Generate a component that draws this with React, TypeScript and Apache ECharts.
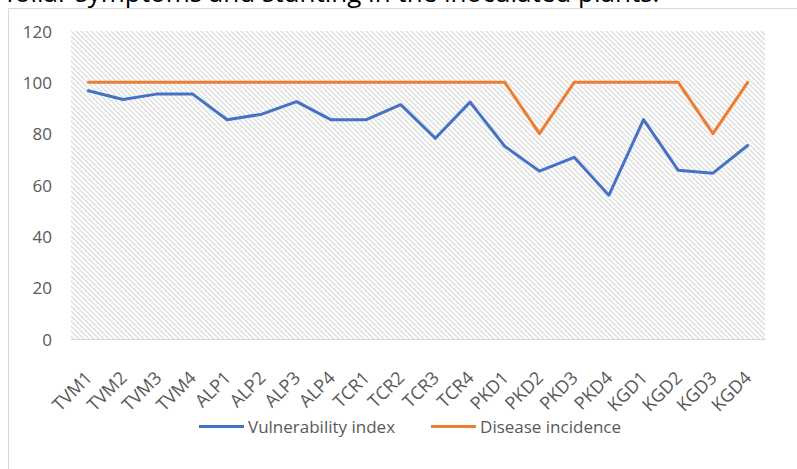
import React, { useEffect, useRef } from "react";
import * as echarts from "echarts";

const categories = [
  "TVM1", "TVM2", "TVM3", "TVM4",
  "ALP1", "ALP2", "ALP3", "ALP4",
  "TCR1", "TCR2", "TCR3", "TCR4",
  "PKD1", "PKD2", "PKD3", "PKD4",
  "KGD1", "KGD2", "KGD3", "KGD4",
];

const vulnerabilityIndex = [
  96.7, 93.3, 95.5, 95.5,
  85.4, 87.6, 92.5, 85.4,
  85.4, 91.3, 78.2, 92.3,
  75.1, 65.4, 70.8, 56.0,
  85.5, 65.7, 64.6, 75.4,
];

const diseaseIncidence = [
  100, 100, 100, 100,
  100, 100, 100, 100,
  100, 100, 100, 100,
  100, 80, 100, 100,
  100, 100, 80, 100,
];

const yTicks = { min: 0, max: 120, interval: 20 };

const titleText = "foliar symptoms and stunting in the inoculated plants.";

function makeHatch(): HTMLCanvasElement {
  const s = 5;
  const c = document.createElement("canvas");
  c.width = s;
  c.height = s;
  const ctx = c.getContext("2d")!;
  ctx.fillStyle = "#ffffff";
  ctx.fillRect(0, 0, s, s);
  ctx.strokeStyle = "#dedede";
  ctx.lineWidth = 1.4;
  for (const k of [-s, 0, s]) {
    ctx.beginPath();
    ctx.moveTo(k - 1, -1);
    ctx.lineTo(k + s + 1, s + 1);
    ctx.stroke();
  }
  return c;
}

export default function App() {
  const ref = useRef<HTMLDivElement>(null);

  useEffect(() => {
    if (!ref.current) return;
    const chart = echarts.init(ref.current, undefined, { renderer: "svg" });
    const hatch = makeHatch();
    const font = "'Open Sans', sans-serif";
    chart.setOption({
      animation: false,
      backgroundColor: "#ffffff",
      textStyle: { fontFamily: font },
      graphic: [
        {
          type: "text",
          left: 6,
          top: -21,
          z: -20,
          style: {
            text: titleText,
            font: "26px 'Open Sans', sans-serif",
            fill: "#000000",
          },
        },
        {
          type: "rect",
          z: -10,
          shape: { x: 8.5, y: 8.5, width: 800, height: 470 },
          style: { fill: "#ffffff", stroke: "#d9d9d9", lineWidth: 1 },
        },
      ],
      grid: {
        left: 71,
        top: 31,
        right: 32,
        bottom: 130,
        show: true,
        borderWidth: 0,
        backgroundColor: {
          image: hatch,
          repeat: "repeat",
          imageWidth: 5,
          imageHeight: 5,
        },
      },
      legend: {
        left: 194,
        top: 413,
        itemWidth: 45,
        itemHeight: 3,
        itemGap: 36,
        icon: "rect",
        textStyle: { color: "#595959", fontSize: 17, fontFamily: font, padding: [0, 0, 0, -1] },
        data: ["Vulnerability index", "Disease incidence"],
      },
      xAxis: {
        type: "category",
        data: categories,
        boundaryGap: true,
        axisLine: { show: true, lineStyle: { color: "#d9d9d9", width: 1 } },
        axisTick: { show: false },
        splitLine: { show: false },
        axisLabel: {
          rotate: 45,
          interval: 0,
          margin: 35,
          color: "#595959",
          fontSize: 18,
          fontFamily: font,
        },
      },
      yAxis: {
        type: "value",
        min: yTicks.min,
        max: yTicks.max,
        interval: yTicks.interval,
        axisLine: { show: false },
        axisTick: { show: false },
        splitLine: { show: false },
        axisLabel: {
          margin: 19,
          color: "#595959",
          fontSize: 17,
          fontFamily: font,
        },
      },
      series: [
        {
          name: "Vulnerability index",
          type: "line",
          data: vulnerabilityIndex,
          symbol: "none",
          color: "#4472C4",
          lineStyle: { color: "#4472C4", width: 3, join: "round", cap: "round" },
        },
        {
          name: "Disease incidence",
          type: "line",
          data: diseaseIncidence,
          symbol: "none",
          color: "#ED7D31",
          lineStyle: { color: "#ED7D31", width: 3, join: "round", cap: "round" },
        },
      ],
    });
    return () => chart.dispose();
  }, []);

  return (
    <div
      ref={ref}
      style={{ position: "fixed", left: 0, top: 0, width: 797, height: 469 }}
    />
  );
}
